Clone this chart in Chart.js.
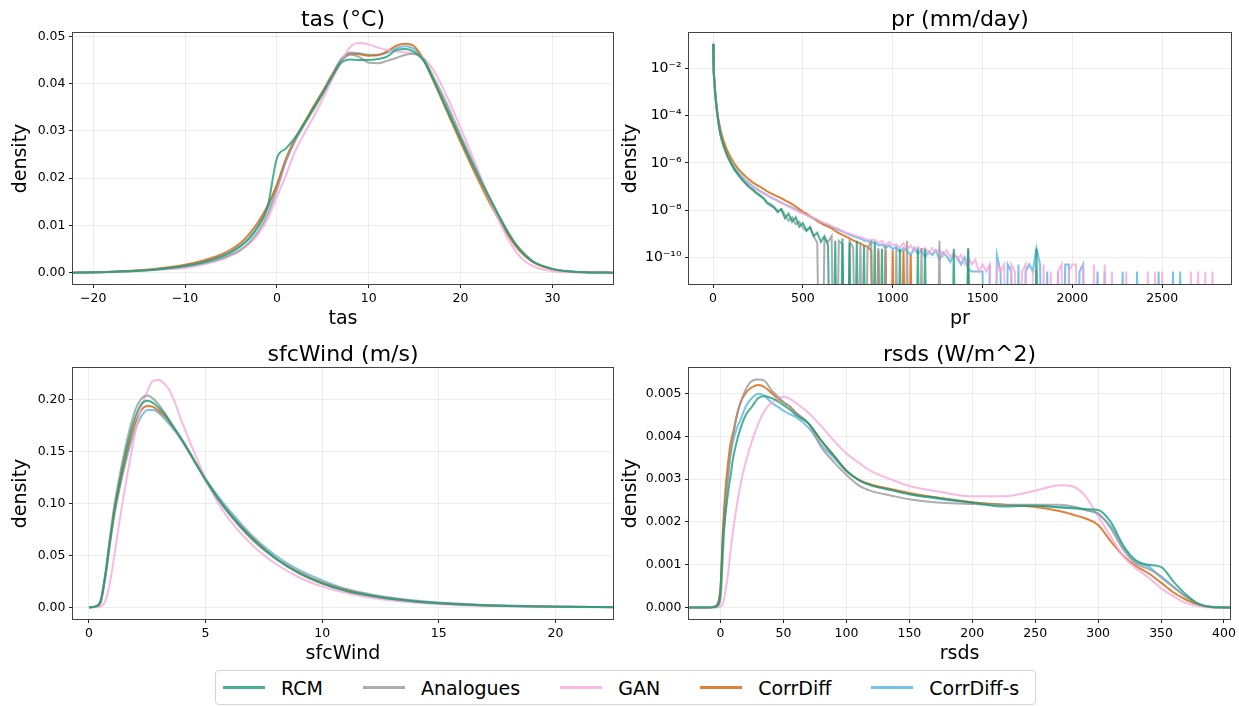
<!DOCTYPE html>
<html>
<head>
<meta charset="utf-8">
<script src="https://cdn.jsdelivr.net/npm/chart.js@4.4.1/dist/chart.umd.min.js"></script>
<style>
  body { margin: 0; background: #fff; width: 1239px; height: 706px; position: relative; overflow: hidden; font-family: "DejaVu Sans", sans-serif; }
  canvas { position: absolute; }
  #legend { position: absolute; left: 215px; top: 670px; width: 821px; height: 35px; box-sizing: border-box;
    border: 1px solid #d4d4d4; border-radius: 4px; display: flex; align-items: center; padding-left: 7px; gap: 40px;
    font-size: 19px; color: #000; background: #fff; }
  #legend .item { display: flex; align-items: center; gap: 16px; }
  #legend .swatch { width: 42px; height: 2.5px; }
</style>
</head>
<body>
<canvas id="tasChart" width="620" height="330" style="left:0;top:0"></canvas>
<canvas id="prChart" width="619" height="330" style="left:620px;top:0"></canvas>
<canvas id="windChart" width="620" height="340" style="left:0;top:330px"></canvas>
<canvas id="rsdsChart" width="619" height="340" style="left:620px;top:330px"></canvas>
<div id="legend"></div>
<script>
const seriesNames = ['RCM', 'Analogues', 'GAN', 'CorrDiff', 'CorrDiff-s'];
const seriesColors = ['rgba(27,158,119,0.8)', 'rgba(153,153,153,0.8)', 'rgba(247,168,220,0.8)', 'rgba(217,95,2,0.8)', 'rgba(86,180,233,0.8)'];

// tas
const tasX = [-22.2, -20, -15, -12, -10, -8, -6, -5, -4, -3, -2, -1, 0, 1, 2, 3, 4, 5, 6, 7, 8, 9, 10, 11, 12, 13, 14, 15, 16, 17, 18, 19, 20, 21, 22, 23, 24, 25, 26, 27, 28, 30, 32, 34, 36.6];
const tasRcm = [0, 0.00006, 0.0004, 0.0009, 0.0014, 0.0022, 0.0034, 0.0043, 0.0055, 0.0072, 0.0098, 0.014, 0.0242, 0.0263, 0.0286, 0.0316, 0.0348, 0.038, 0.0414, 0.0444, 0.0451, 0.045, 0.045, 0.0452, 0.0457, 0.0471, 0.0473, 0.0466, 0.0448, 0.041, 0.0368, 0.0325, 0.0283, 0.0241, 0.0201, 0.0163, 0.0126, 0.009, 0.006, 0.0038, 0.0022, 0.0008, 0.00022, 0.00005, 0];
const tasAnalogues = [0, 0.00005, 0.0004, 0.0009, 0.0013, 0.002, 0.003, 0.0038, 0.0048, 0.0064, 0.0088, 0.0124, 0.0175, 0.0236, 0.0279, 0.0313, 0.0345, 0.0378, 0.0414, 0.0447, 0.0461, 0.0456, 0.0444, 0.0443, 0.0448, 0.0454, 0.0461, 0.0463, 0.0452, 0.0416, 0.0378, 0.0336, 0.0291, 0.0248, 0.0206, 0.0166, 0.0128, 0.0092, 0.0061, 0.0039, 0.0023, 0.0008, 0.00022, 0.00005, 0];
const tasGan = [0, 0.00003, 0.0003, 0.0007, 0.001, 0.0017, 0.0028, 0.0036, 0.0046, 0.0061, 0.0082, 0.0114, 0.016, 0.0207, 0.0257, 0.0295, 0.033, 0.0368, 0.0408, 0.0446, 0.0478, 0.0486, 0.0483, 0.0476, 0.0471, 0.0468, 0.0466, 0.0462, 0.0453, 0.043, 0.0394, 0.0352, 0.0306, 0.026, 0.0212, 0.0163, 0.0119, 0.0077, 0.0045, 0.0024, 0.0013, 0.0003, 0.00008, 0.00002, 0];
const tasCorrDiff = [0, 0.00008, 0.0005, 0.0011, 0.0017, 0.0026, 0.0039, 0.0049, 0.0062, 0.0082, 0.0108, 0.0142, 0.0186, 0.0242, 0.0284, 0.0318, 0.0352, 0.0384, 0.0418, 0.0449, 0.0463, 0.0462, 0.0459, 0.046, 0.0468, 0.048, 0.0484, 0.0478, 0.045, 0.0408, 0.0364, 0.032, 0.0276, 0.0234, 0.0193, 0.0154, 0.0119, 0.0085, 0.0056, 0.0035, 0.0021, 0.0007, 0.0002, 0.00005, 0];
const tasCorrDiffS = [0, 0.00006, 0.00045, 0.001, 0.0015, 0.0023, 0.0036, 0.0045, 0.0057, 0.0075, 0.0101, 0.0136, 0.0182, 0.0238, 0.0281, 0.0316, 0.035, 0.0383, 0.0418, 0.0452, 0.0466, 0.0464, 0.0461, 0.0461, 0.0465, 0.0475, 0.0479, 0.0472, 0.0448, 0.041, 0.0369, 0.0328, 0.0285, 0.0244, 0.0204, 0.0165, 0.0127, 0.0091, 0.006, 0.0038, 0.0022, 0.0008, 0.00022, 0.00005, 0];
const tasXTicks = [-20, -10, 0, 10, 20, 30];
const tasYTicks = [0, 0.01, 0.02, 0.03, 0.04, 0.05];

// pr (zero bins are empty histogram bins)
const prX = [0, 2, 5, 10, 15, 20, 30, 40, 50, 60, 80, 100, 120, 140, 160, 180, 200, 220, 240, 260, 280,
  300, 320, 340, 360, 380, 400, 420, 440, 460, 480,
  500, 520, 540, 560, 580, 600, 620, 640, 660, 680,
  700, 720, 740, 760, 780, 800, 820, 840, 860, 880,
  900, 920, 940, 960, 980, 1000, 1020, 1040, 1060, 1080,
  1100, 1120, 1140, 1160, 1180, 1200, 1220, 1240, 1260, 1280,
  1300, 1320, 1340, 1360, 1380, 1400, 1420, 1440, 1460, 1480,
  1500, 1520, 1540, 1560, 1580, 1600, 1620, 1640, 1660, 1680,
  1700, 1720, 1740, 1760, 1780, 1800, 1820, 1840, 1860, 1880,
  1900, 1920, 1940, 1960, 1980, 2000, 2020, 2040, 2060, 2080,
  2100, 2120, 2140, 2160, 2180, 2200, 2220, 2240, 2260, 2280,
  2300, 2320, 2340, 2360, 2380, 2400, 2420, 2440, 2460, 2480,
  2500, 2520, 2540, 2560, 2580, 2600, 2620, 2640, 2660, 2680,
  2700, 2720, 2740, 2760, 2780, 2800];
const prRcm = [0.11, 0.032, 7e-3, 1.4e-3, 5e-4, 2e-4, 5e-5, 1.8e-5, 8.9e-6, 5e-6, 2e-6, 1e-6, 5.4e-7, 3.3e-7, 2.1e-7, 1.45e-7, 1e-7, 7.6e-8, 5.6e-8, 4.3e-8, 3.3e-8,
  2e-8, 1.6e-8, 1.26e-8, 8.9e-9, 1.1e-8, 4.5e-9, 7.1e-9, 3.2e-9, 5e-9, 2e-9,
  2.8e-9, 1.4e-9, 1.8e-9, 7.9e-10, 1.1e-9, 4.5e-10, 7.9e-10, 3.2e-10, 0, 5e-10,
  0, 6.3e-10, 0, 4e-10, 0, 5e-10, 0, 3e-10, 0, 0,
  4.5e-10, 0, 2.3e-10, 0, 0, 0, 0, 2.3e-10, 0, 0,
  0, 0, 2.3e-10, 0, 2.3e-10, 0, 0, 0, 0, 0,
  0, 0, 2.3e-10, 0, 0, 0, 2.3e-10, 0, 0, 0,
  0, 0, 0, 0, 0, 0, 0, 0, 0, 0,
  0, 0, 0, 0, 0, 2.3e-10, 0];
const prAnalogues = [0.11, 0.032, 7e-3, 1.4e-3, 5e-4, 1.9e-4, 4.8e-5, 1.7e-5, 8.3e-6, 4.7e-6, 1.9e-6, 9e-7, 4.8e-7, 3e-7, 1.9e-7, 1.3e-7, 9.3e-8, 7e-8, 5.2e-8, 4e-8, 3.2e-8,
  2.2e-8, 1.8e-8, 1.4e-8, 7.9e-9, 1.1e-8, 6.3e-9, 3.5e-9, 5e-9, 2.5e-9, 3.2e-9,
  1.8e-9, 1.26e-9, 2e-9, 7.9e-10, 4e-10, 0, 6.3e-10, 4.5e-10, 7.9e-10, 0,
  5e-10, 3.5e-10, 0, 5e-10, 2.5e-10, 0, 4.5e-10, 0, 2.5e-10, 4.5e-10,
  0, 2.5e-10, 0, 3.5e-10, 0, 0, 2.5e-10, 0, 0, 5e-10,
  0, 0, 0, 2.5e-10, 0, 0, 0, 0, 5e-10, 0,
  0, 0, 0, 0, 0, 0, 2.5e-10, 0];
const prGan = [0.126, 0.028, 5.6e-3, 1.1e-3, 4e-4, 1.6e-4, 4e-5, 1.6e-5, 8e-6, 4.5e-6, 1.8e-6, 9e-7, 5e-7, 3.3e-7, 2.3e-7, 1.7e-7, 1.26e-7, 9.5e-8, 7.6e-8, 6e-8, 5e-8,
  4.2e-8, 3.5e-8, 2.9e-8, 2.4e-8, 2e-8, 1.7e-8, 1.4e-8, 1.2e-8, 1e-8, 8.5e-9,
  7.2e-9, 6.3e-9, 5.5e-9, 4.6e-9, 4e-9, 3.2e-9, 2.8e-9, 2.5e-9, 2.1e-9, 1.8e-9,
  1.6e-9, 1.3e-9, 1.1e-9, 1e-9, 8.9e-10, 7.9e-10, 7.1e-10, 6.3e-10, 5.6e-10, 5e-10,
  5.6e-10, 4e-10, 5e-10, 3.2e-10, 4.5e-10, 3.2e-10, 3.5e-10, 2.5e-10, 4e-10, 2.2e-10,
  3.2e-10, 1.8e-10, 2.8e-10, 2e-10, 2.5e-10, 1.4e-10, 2.5e-10, 1.6e-10, 2e-10, 1.1e-10,
  2e-10, 1e-10, 1.6e-10, 7.9e-11, 1.26e-10, 5e-11, 1e-10, 5e-11, 7.9e-11, 2.5e-11,
  5e-11, 2.5e-11, 5e-11, 0, 5e-11, 2.5e-11, 5e-11, 0, 5e-11, 2.5e-11,
  0, 2.5e-11, 5e-11, 0, 2.5e-11, 2.5e-11, 0, 5e-11, 0, 2.5e-11,
  0, 2.5e-11, 5e-11, 0, 2.5e-11, 5e-11, 5e-11, 0, 5e-11, 0,
  0, 5e-11, 0, 0, 5e-11, 0, 2.5e-11, 0, 0, 0,
  2.5e-11, 0, 0, 0, 0, 0, 2.5e-11, 0, 2.5e-11, 0,
  2.5e-11, 0, 0, 0, 0, 0, 0, 0, 2.5e-11, 0,
  2.5e-11, 0, 2.5e-11, 0, 2.5e-11, 0];
const prCorrDiff = [0.11, 0.032, 8e-3, 1.6e-3, 5.6e-4, 2.5e-4, 7e-5, 2.8e-5, 1.4e-5, 8e-6, 3.2e-6, 1.6e-6, 9e-7, 5.6e-7, 3.8e-7, 2.7e-7, 2e-7, 1.5e-7, 1.2e-7, 1e-7, 7.9e-8,
  6.3e-8, 5.2e-8, 4.4e-8, 3.7e-8, 3.2e-8, 2.6e-8, 2.2e-8, 1.8e-8, 1.4e-8, 1.1e-8,
  8.5e-9, 7.1e-9, 5.6e-9, 4.5e-9, 3.5e-9, 2.8e-9, 2.3e-9, 2e-9, 1.7e-9, 1.3e-9,
  1.07e-9, 8.9e-10, 7.6e-10, 6.3e-10, 5.2e-10, 4.5e-10, 3.8e-10, 3.2e-10, 2.8e-10, 2e-10,
  0, 2e-10, 0, 2e-10, 0, 2e-10, 0, 0, 2e-10, 0,
  1.26e-10, 0];
const prCorrDiffS = [0.11, 0.032, 7e-3, 1.4e-3, 5e-4, 2e-4, 5e-5, 2e-5, 1e-5, 5.6e-6, 2.2e-6, 1.1e-6, 6.3e-7, 4e-7, 2.7e-7, 1.9e-7, 1.4e-7, 1.05e-7, 8.3e-8, 6.6e-8, 5.4e-8,
  4.4e-8, 3.5e-8, 3e-8, 2.5e-8, 2.1e-8, 1.7e-8, 1.5e-8, 1.26e-8, 1.07e-8, 8.9e-9,
  7.6e-9, 6.3e-9, 5.2e-9, 4.5e-9, 3.8e-9, 3.2e-9, 2.6e-9, 2.4e-9, 2e-9, 1.7e-9,
  1.4e-9, 1.26e-9, 1.07e-9, 8.9e-10, 7.9e-10, 7.1e-10, 6.3e-10, 5.2e-10, 5e-10, 4e-10,
  4.5e-10, 3.2e-10, 3.5e-10, 2.5e-10, 3.2e-10, 2.2e-10, 2.8e-10, 1.6e-10, 2.5e-10, 1.8e-10,
  1.26e-10, 2.5e-10, 1.4e-10, 2e-10, 1e-10, 1.8e-10, 1.26e-10, 2e-10, 7.9e-11, 1.6e-10,
  1.1e-10, 6.3e-11, 1.26e-10, 1e-10, 5e-11, 1e-10, 3.2e-11, 2.5e-11, 2.5e-11, 2.5e-11,
  2.5e-11, 0, 5e-11, 0, 1.26e-10, 2.5e-11, 0, 5e-11, 2.5e-11, 0,
  5e-11, 0, 2.5e-11, 5e-11, 2.5e-11, 2.5e-10, 5e-11, 0, 2.5e-11, 0,
  0, 2.5e-11, 0, 5e-11, 5e-11, 0, 0, 2.5e-11, 5e-11, 0,
  0, 0, 2.5e-11, 0, 2.5e-11, 0, 0, 0, 0, 2.5e-11,
  0, 0, 0, 2.5e-11, 0, 0, 0, 0, 0, 2.5e-11,
  0, 0, 0, 2.5e-11, 0, 2.5e-11, 0];
const prXTicks = [0, 500, 1000, 1500, 2000, 2500];
const prYTicks = [1e-10, 1e-8, 1e-6, 1e-4, 1e-2];
// empty bins are clipped far below the log axis, like matplotlib does
const prClipFloor = 1e-20;

// sfcWind
const windX = [0, 0.3, 0.5, 0.7, 0.9, 1.1, 1.3, 1.5, 1.75, 2, 2.25, 2.5, 2.75, 3, 3.25, 3.5, 4, 4.5, 5, 5.5, 6, 7, 8, 9, 10, 11, 12, 13, 14, 15, 16, 17, 18, 20, 22.47];
const windRcm = [0, 0.001, 0.006, 0.031, 0.065, 0.096, 0.12, 0.142, 0.166, 0.184, 0.196, 0.199, 0.197, 0.192, 0.186, 0.178, 0.161, 0.142, 0.123, 0.106, 0.091, 0.066, 0.047, 0.033, 0.023, 0.016, 0.0115, 0.008, 0.0057, 0.004, 0.0028, 0.0019, 0.0013, 0.0006, 0.0002];
const windAnalogues = [0, 0.001, 0.007, 0.033, 0.068, 0.1, 0.125, 0.148, 0.172, 0.191, 0.201, 0.204, 0.201, 0.195, 0.187, 0.178, 0.16, 0.141, 0.122, 0.105, 0.09, 0.065, 0.047, 0.033, 0.023, 0.016, 0.0113, 0.008, 0.0056, 0.0039, 0.0027, 0.0019, 0.0013, 0.0006, 0.0002];
const windGan = [0, 0, 0.001, 0.006, 0.024, 0.052, 0.082, 0.109, 0.141, 0.17, 0.193, 0.208, 0.218, 0.219, 0.215, 0.207, 0.178, 0.15, 0.124, 0.102, 0.085, 0.06, 0.042, 0.029, 0.02, 0.014, 0.0095, 0.0065, 0.0045, 0.003, 0.002, 0.0014, 0.001, 0.0004, 0.0001];
const windCorrDiff = [0, 0.001, 0.005, 0.03, 0.063, 0.093, 0.116, 0.137, 0.16, 0.178, 0.19, 0.194, 0.193, 0.189, 0.184, 0.177, 0.161, 0.142, 0.123, 0.106, 0.0915, 0.067, 0.0475, 0.034, 0.024, 0.017, 0.012, 0.0085, 0.006, 0.0042, 0.003, 0.002, 0.0014, 0.0007, 0.0003];
const windCorrDiffS = [0, 0.001, 0.005, 0.029, 0.061, 0.09, 0.113, 0.133, 0.155, 0.172, 0.184, 0.19, 0.19, 0.187, 0.181, 0.175, 0.16, 0.142, 0.124, 0.108, 0.094, 0.069, 0.05, 0.036, 0.026, 0.018, 0.013, 0.0093, 0.0066, 0.0047, 0.0034, 0.0024, 0.0017, 0.0008, 0.0003];
const windXTicks = [0, 5, 10, 15, 20];
const windYTicks = [0, 0.05, 0.1, 0.15, 0.2];

// rsds
const rsdsX = [-25, -10, -5, -2, 0, 2, 4, 6, 8, 10, 13, 16, 20, 25, 30, 35, 40, 45, 50, 55, 60, 70, 80, 90, 100, 110, 120, 135, 150, 175, 200, 225, 250, 270, 280, 290, 300, 310, 320, 330, 340, 350, 360, 370, 380, 390, 404.8];
const rsdsRcm = [0, 0, 0.00001, 0.00005, 0.0004, 0.0016, 0.0022, 0.0027, 0.0031, 0.0035, 0.0039, 0.0042, 0.0045, 0.0047, 0.0049, 0.00494, 0.0049, 0.00483, 0.00473, 0.00463, 0.0045, 0.0043, 0.0039, 0.00355, 0.0032, 0.00298, 0.00285, 0.00275, 0.00265, 0.00255, 0.00245, 0.00236, 0.00238, 0.00234, 0.00232, 0.0023, 0.00228, 0.002, 0.00145, 0.0011, 0.001, 0.00095, 0.0006, 0.0003, 0.00008, 0.00001, 0];
const rsdsAnalogues = [0, 0, 0.00001, 0.00005, 0.0002, 0.0013, 0.0024, 0.0031, 0.0036, 0.004, 0.0045, 0.0048, 0.0051, 0.0053, 0.00533, 0.0053, 0.0051, 0.00495, 0.0048, 0.0047, 0.00455, 0.0043, 0.00375, 0.0034, 0.0031, 0.00285, 0.00272, 0.00262, 0.00253, 0.00245, 0.00242, 0.0024, 0.0024, 0.0024, 0.00236, 0.00228, 0.0022, 0.00185, 0.00135, 0.00103, 0.0009, 0.00073, 0.00048, 0.00025, 0.00008, 0.00001, 0];
const rsdsGan = [0, 0, 0, 0, 0.00002, 0.0001, 0.0004, 0.0008, 0.00135, 0.0018, 0.0024, 0.0029, 0.0034, 0.0039, 0.0043, 0.0046, 0.00478, 0.00488, 0.00493, 0.00488, 0.00478, 0.00455, 0.00424, 0.0039, 0.0036, 0.00338, 0.00318, 0.003, 0.00284, 0.0027, 0.0026, 0.0026, 0.00273, 0.00286, 0.00283, 0.0026, 0.00213, 0.00166, 0.0012, 0.00092, 0.0007, 0.00045, 0.00026, 0.0001, 0.00003, 0, 0];
const rsdsCorrDiff = [0, 0, 0.00002, 0.0001, 0.0005, 0.0019, 0.0028, 0.0034, 0.00385, 0.0041, 0.0045, 0.0048, 0.00502, 0.00515, 0.0052, 0.00515, 0.00503, 0.0049, 0.0048, 0.0047, 0.00455, 0.0043, 0.0039, 0.00355, 0.0032, 0.00298, 0.00287, 0.00277, 0.00268, 0.00256, 0.00246, 0.0024, 0.00235, 0.00225, 0.00217, 0.00208, 0.00193, 0.00155, 0.00121, 0.00097, 0.0008, 0.00058, 0.00035, 0.00018, 0.00006, 0.00001, 0];
const rsdsCorrDiffS = [0, 0, 0.00002, 0.0001, 0.0005, 0.0018, 0.0026, 0.0031, 0.0036, 0.0039, 0.0042, 0.0044, 0.0047, 0.0049, 0.005, 0.00495, 0.0048, 0.0047, 0.0046, 0.00452, 0.00445, 0.0042, 0.0038, 0.0035, 0.00318, 0.00298, 0.00286, 0.00275, 0.00265, 0.00253, 0.00245, 0.0024, 0.00238, 0.00235, 0.00233, 0.00228, 0.00218, 0.0019, 0.0014, 0.00106, 0.00096, 0.0007, 0.00047, 0.00025, 0.00008, 0.00001, 0];
const rsdsXTicks = [0, 50, 100, 150, 200, 250, 300, 350, 400];
const rsdsYTicks = [0, 0.001, 0.002, 0.003, 0.004, 0.005];

Chart.defaults.font.family = '"DejaVu Sans", sans-serif';
Chart.defaults.color = '#000';

const gridColor = 'rgba(0,0,0,0.07)';

// axes frame on top of the lines + panel title centred over the axes
const frameAndTitle = {
  id: 'frameAndTitle',
  afterDatasetsDraw(chart, args, opts) {
    const { ctx, chartArea: a } = chart;
    ctx.save();
    ctx.strokeStyle = '#444';
    ctx.lineWidth = 1;
    ctx.strokeRect(Math.round(a.left) - 0.5, Math.round(a.top) - 0.5, Math.round(a.right - a.left) + 1, Math.round(a.bottom - a.top) + 1);
    ctx.fillStyle = '#000';
    ctx.font = '22px "DejaVu Sans"';
    ctx.textAlign = 'center';
    ctx.textBaseline = 'alphabetic';
    ctx.fillText(opts.text, (a.left + a.right) / 2, a.top - 7);
    ctx.restore();
  }
};

const minus = v => String(v).replace('-', '\u2212');
const sup = { '-': '\u207B', '0': '\u2070', '1': '\u00B9', '2': '\u00B2', '4': '\u2074', '6': '\u2076', '8': '\u2078' };
const logLabel = v => '10' + String(Math.round(Math.log10(v))).split('').map(c => sup[c]).join('');

function lines(xs, seriesList, opt) {
  return seriesList.map((ys, i) => ({
    label: seriesNames[i],
    data: ys.map((y, j) => ({ x: xs[j], y: opt.floor ? (y > 0 ? y : opt.floor) : y })),
    borderColor: seriesColors[i],
    backgroundColor: seriesColors[i],
    borderWidth: 2,
    pointRadius: 0,
    fill: false,
    cubicInterpolationMode: opt.smooth ? 'monotone' : 'default',
    tension: 0
  }));
}

function makePanel(id, c) {
  new Chart(document.getElementById(id), {
    type: 'line',
    data: { datasets: c.datasets },
    options: {
      responsive: false,
      animation: false,
      devicePixelRatio: 1,
      layout: { padding: { top: c.padTop, right: c.padRight, left: 0, bottom: 0 } },
      plugins: { legend: { display: false }, tooltip: { enabled: false }, frameAndTitle: { text: c.title } },
      scales: {
        x: {
          type: 'linear', min: c.xMin, max: c.xMax, bounds: 'data',
          afterFit: s => { s.height = c.xHeight; },
          afterBuildTicks: s => { s.ticks = c.xTicks.map(v => ({ value: v })); },
          ticks: { autoSkip: false, maxRotation: 0, minRotation: 0, padding: 3, font: { size: 12.5 }, color: '#000', callback: v => minus(v) },
          grid: { color: gridColor, tickColor: '#222', tickLength: 4, tickWidth: 1 },
          border: { display: false },
          title: { display: true, text: c.xLabel, font: { size: 19 }, color: '#000', padding: { top: 0, bottom: c.xTitlePad } }
        },
        y: {
          type: c.yType, min: c.yMin, max: c.yMax, bounds: 'data',
          afterFit: s => { s.width = c.yWidth; },
          afterBuildTicks: s => { s.ticks = c.yTicks.map(v => ({ value: v })); },
          ticks: { autoSkip: false, padding: 3.5, font: { size: c.yTickSize || 12.5 }, color: '#000', callback: c.yFmt },
          grid: { color: gridColor, tickColor: '#222', tickLength: 4, tickWidth: 1 },
          border: { display: false },
          title: { display: true, text: 'density', font: { size: 19 }, color: '#000', padding: { top: c.yTitlePad, bottom: 0 } }
        }
      }
    },
    plugins: [frameAndTitle]
  });
}

makePanel('tasChart', {
  title: 'tas (\u00B0C)', xLabel: 'tas', yType: 'linear',
  datasets: lines(tasX, [tasRcm, tasAnalogues, tasGan, tasCorrDiff, tasCorrDiffS], { smooth: true }),
  xMin: -22.2, xMax: 36.6, yMin: -0.0024, yMax: 0.0507,
  xTicks: tasXTicks, yTicks: tasYTicks, yFmt: v => v.toFixed(2),
  padTop: 33, padRight: 7, yWidth: 73, xHeight: 46, xTitlePad: 0, yTitlePad: 10
});

makePanel('prChart', {
  title: 'pr (mm/day)', xLabel: 'pr', yType: 'logarithmic',
  datasets: lines(prX, [prRcm, prAnalogues, prGan, prCorrDiff, prCorrDiffS], { smooth: false, floor: prClipFloor }),
  xMin: -134, xMax: 2883, yMin: 7.4e-12, yMax: 0.32,
  xTicks: prXTicks, yTicks: prYTicks, yFmt: v => logLabel(v), yTickSize: 14,
  padTop: 33, padRight: 8, yWidth: 69, xHeight: 46, xTitlePad: 0, yTitlePad: 0
});

makePanel('windChart', {
  title: 'sfcWind (m/s)', xLabel: 'sfcWind', yType: 'linear',
  datasets: lines(windX, [windRcm, windAnalogues, windGan, windCorrDiff, windCorrDiffS], { smooth: true }),
  xMin: -0.686, xMax: 22.47, yMin: -0.0112, yMax: 0.2305,
  xTicks: windXTicks, yTicks: windYTicks, yFmt: v => v.toFixed(2),
  padTop: 38, padRight: 7, yWidth: 73, xHeight: 51, xTitlePad: 5, yTitlePad: 10
});

makePanel('rsdsChart', {
  title: 'rsds (W/m^2)', xLabel: 'rsds', yType: 'linear',
  datasets: lines(rsdsX, [rsdsRcm, rsdsAnalogues, rsdsGan, rsdsCorrDiff, rsdsCorrDiffS], { smooth: true }),
  xMin: -25.1, xMax: 404.8, yMin: -0.00027, yMax: 0.0056,
  xTicks: rsdsXTicks, yTicks: rsdsYTicks, yFmt: v => v.toFixed(3),
  padTop: 38, padRight: 8, yWidth: 69, xHeight: 51, xTitlePad: 5, yTitlePad: 0
});

// shared legend
const legend = document.getElementById('legend');
seriesNames.forEach((name, i) => {
  const item = document.createElement('div');
  item.className = 'item';
  item.innerHTML = `<span class="swatch" style="background:${seriesColors[i]}"></span><span>${name}</span>`;
  legend.appendChild(item);
});
</script>
</body>
</html>
